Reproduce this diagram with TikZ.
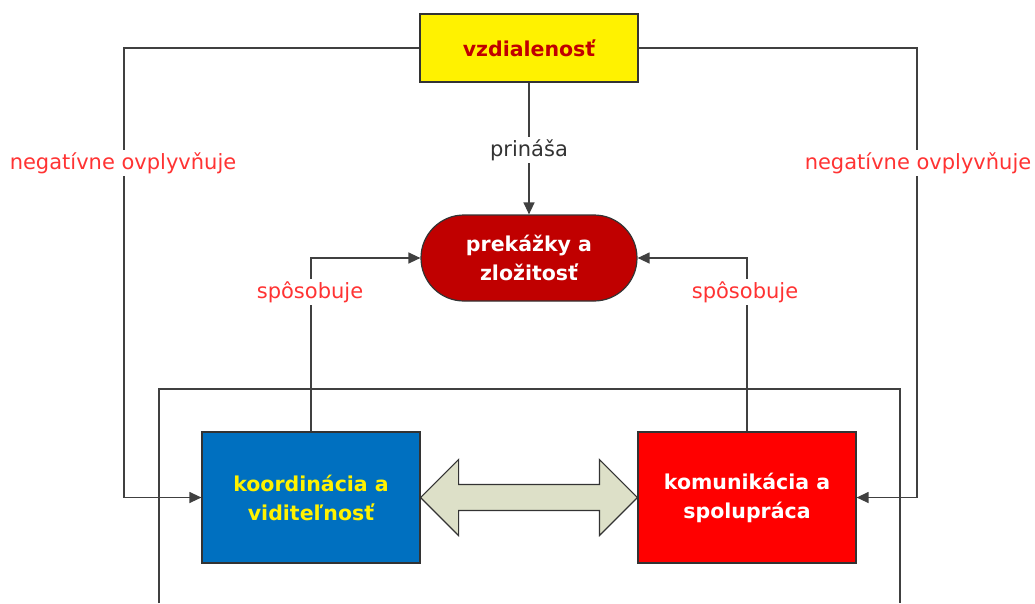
\documentclass[tikz,border=0pt]{standalone}
\usepackage{fontspec}
\setmainfont{DejaVu Sans}
\usetikzlibrary{arrows.meta,calc}
\definecolor{linegray}{HTML}{404040}
\definecolor{darkred}{HTML}{C00000}
\definecolor{boxblue}{HTML}{0070C0}
\definecolor{boxred}{HTML}{FF0000}
\definecolor{lblred}{HTML}{FF3333}
\definecolor{arrfill}{HTML}{DDE0C8}
\definecolor{txtgray}{HTML}{333333}
\tikzset{
  box/.style={draw=black!80, line width=1.2pt, minimum width=218pt, minimum height=131pt, inner sep=0pt, align=center,
    font=\fontsize{20.5}{29}\selectfont\bfseries},
  conn/.style={draw=linegray, line width=1.3pt},
  arr/.style={conn, -{Triangle[length=12pt,width=11pt]}},
  lbl/.style={fill=white, inner sep=2pt, font=\fontsize{21}{24}\selectfont},
  dblarrow/.style={draw=black!80, line width=1.2pt, fill=arrfill, line join=miter}
}
\begin{document}
\begin{tikzpicture}[x=1pt,y=-1pt]
\useasboundingbox (0,0) rectangle (1035,603);
% nodes
\node[box, fill=yellow, text=darkred, minimum height=68pt] (vzd) at (529,48) {vzdialenosť};
\node[box, fill=darkred, text=white, minimum width=216pt, minimum height=86pt, rounded corners=43pt] (prek) at (529,258) {prekážky a\\zložitosť};
\node[box, fill=boxblue, text=yellow] (koord) at (311,497.5) {koordinácia a\\viditeľnosť};
\node[box, fill=boxred, text=white] (kom) at (747,497.5) {komunikácia a\\spolupráca};
% coordinates
\coordinate (lc) at (124,497.5);
\coordinate (rc) at (917,497.5);
\coordinate (fl) at (159,603);
\coordinate (flt) at (159,389);
\coordinate (frt) at (900,389);
\coordinate (fr) at (900,603);
% frame
\draw[conn] (fl) -- (flt) -- (frt) -- (fr);
% connectors
\draw[arr] (vzd.west) -| (lc) -- (koord.west);
\draw[arr] (vzd.east) -| (rc) -- (kom.east);
\draw[arr] (vzd.south) -- (prek.north);
\draw[arr] (koord.north) |- (prek.west);
\draw[arr] (kom.north) |- (prek.east);
% double arrow
\draw[dblarrow] (koord.east) -- ++(38,-38) -- ++(0,25) -- ($(kom.west)+(-38,-13)$) -- ++(0,-25) -- (kom.west)
  -- ++(-38,38) -- ++(0,-25) -- ($(koord.east)+(38,13)$) -- ++(0,25) -- cycle;
% labels
\node[lbl, text=lblred] (l1) at (123,163) {negatívne ovplyvňuje};
\node[lbl, text=lblred] (l2) at (918,163) {negatívne ovplyvňuje};
\node[lbl, text=txtgray] (l3) at (529,150) {prináša};
\node[lbl, text=lblred] (l4) at (310,292) {spôsobuje};
\node[lbl, text=lblred] (l5) at (745,292) {spôsobuje};
\end{tikzpicture}
\end{document}
